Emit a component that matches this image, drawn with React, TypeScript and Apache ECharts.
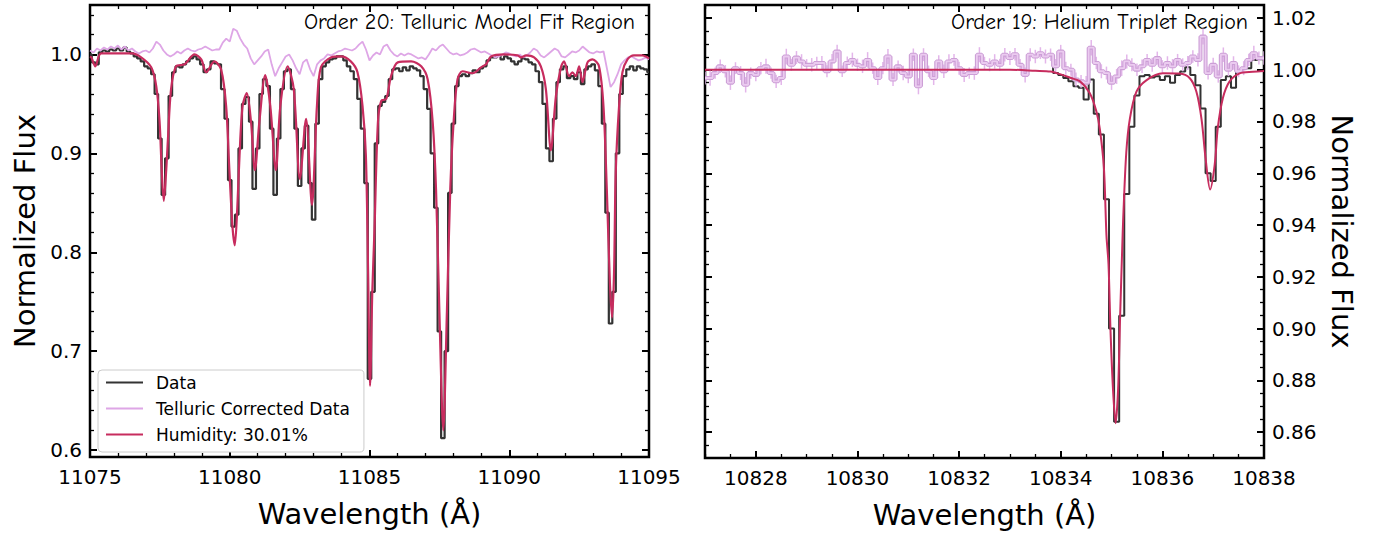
import React, { useEffect, useRef } from 'react';
import * as echarts from 'echarts';

// ---------------- Order 20 (left panel) ----------------
const leftStart = 11075;
const leftStep = 0.125;
const leftData = [
  1.000, 0.992, 0.990, 1.002, 1.004, 1.003, 1.005, 1.004, 1.006, 1.004,
  1.007, 1.003, 1.001, 0.998, 0.996, 0.993, 0.988, 0.986, 0.980, 0.960,
  0.915, 0.858, 0.895, 0.958, 0.982, 0.988, 0.987, 0.990, 0.993, 0.996,
  0.998, 0.995, 0.990, 0.982, 0.985, 0.993, 0.991, 0.990, 0.965, 0.935,
  0.873, 0.826, 0.838, 0.905, 0.950, 0.957, 0.932, 0.864, 0.905, 0.960,
  0.975, 0.968, 0.925, 0.858, 0.915, 0.965, 0.983, 0.985, 0.965, 0.925,
  0.867, 0.905, 0.928, 0.870, 0.833, 0.930, 0.975, 0.988, 0.992, 0.995,
  0.996, 0.998, 0.998, 0.994, 0.988, 0.983, 0.975, 0.955, 0.925, 0.870,
  0.672, 0.760, 0.910, 0.948, 0.952, 0.958, 0.975, 0.985, 0.986, 0.983,
  0.987, 0.984, 0.988, 0.986, 0.984, 0.978, 0.965, 0.945, 0.900, 0.845,
  0.720, 0.612, 0.700, 0.860, 0.930, 0.968, 0.978, 0.980, 0.978, 0.981,
  0.984, 0.982, 0.986, 0.988, 0.994, 0.997, 0.997, 0.999, 0.995, 0.998,
  0.996, 0.993, 0.990, 0.993, 0.996, 0.995, 0.992, 0.990, 0.983, 0.972,
  0.950, 0.905, 0.892, 0.935, 0.972, 0.985, 0.988, 0.976, 0.978, 0.975,
  0.982, 0.970, 0.985, 0.988, 0.990, 0.984, 0.968, 0.930, 0.840, 0.728,
  0.760, 0.900, 0.960, 0.978, 0.985, 0.988, 0.984, 0.988, 0.986, 0.985,
  0.982,
];
const leftCorrected = [
  1.004, 1.002, 1.006, 1.004, 1.007, 1.005, 1.008, 1.006, 1.009, 1.005,
  1.008, 1.004, 1.006, 1.003, 1.001, 1.003, 1.004, 1.002, 1.006, 1.013,
  1.010, 1.004, 1.000, 0.998, 1.000, 1.003, 1.001, 1.004, 1.006, 1.004,
  1.003, 1.005, 1.006, 1.008, 1.006, 1.004, 1.005, 1.005, 1.012, 1.016,
  1.013, 1.026, 1.024, 1.016, 1.010, 1.006, 0.996, 0.990, 0.994, 0.998,
  1.003, 1.005, 0.990, 0.978, 0.986, 0.992, 0.998, 1.000, 0.994, 0.986,
  0.980, 0.992, 0.995, 0.985, 0.978, 0.990, 0.994, 0.996, 1.000, 0.999,
  1.001, 1.003, 1.004, 1.006, 1.005, 1.004, 1.006, 1.010, 1.013, 1.005,
  0.994, 0.999, 1.002, 1.000, 1.008, 1.010, 1.004, 1.000, 0.998, 1.001,
  0.999, 1.001, 1.000, 0.998, 0.996, 0.997, 0.995, 1.000, 1.006, 1.004,
  1.008, 1.010, 1.006, 1.002, 1.000, 1.001, 0.999, 1.000, 1.002, 1.005,
  1.006, 1.004, 1.002, 1.003, 1.001, 0.999, 0.997, 0.998, 1.000, 1.002,
  1.001, 0.999, 0.998, 1.000, 0.997, 0.999, 1.002, 1.006, 1.004, 0.999,
  0.997, 1.000, 1.003, 1.006, 1.004, 0.998, 0.997, 1.000, 1.003, 1.002,
  1.004, 1.008, 1.005, 1.002, 1.001, 1.003, 1.002, 1.003, 0.985, 0.967,
  0.972, 0.980, 0.990, 0.994, 0.997, 0.998, 0.996, 0.994, 0.995, 0.997,
  0.995,
];
const leftModelWave = [
  11075.0, 11075.05, 11075.19, 11075.4, 11076.5, 11076.83, 11077.19, 11077.37, 11077.49, 11077.57,
  11077.64, 11077.72, 11077.79, 11077.9, 11078.08, 11078.38, 11078.74, 11078.98, 11079.16, 11079.45,
  11079.69, 11079.87, 11079.99, 11080.1, 11080.18, 11080.27, 11080.35, 11080.46, 11080.61, 11080.76,
  11080.9, 11081.06, 11081.27, 11081.45, 11081.65, 11081.81, 11082.07, 11082.29, 11082.51, 11082.73,
  11082.94, 11083.12, 11083.26, 11083.62, 11083.98, 11084.33, 11084.57, 11084.75, 11084.87, 11084.95,
  11085.02, 11085.1, 11085.18, 11085.3, 11085.42, 11085.6, 11085.77, 11086.01, 11086.49, 11086.85,
  11087.08, 11087.26, 11087.38, 11087.5, 11087.64, 11087.77, 11087.89, 11088.01, 11088.15, 11088.33,
  11088.69, 11088.99, 11089.17, 11089.35, 11089.82, 11090.3, 11090.42, 11090.6, 11090.89, 11091.13,
  11091.31, 11091.49, 11091.67, 11091.85, 11091.96, 11092.14, 11092.26, 11092.38, 11092.5, 11092.62,
  11092.8, 11092.98, 11093.21, 11093.37, 11093.49, 11093.6, 11093.68, 11093.75, 11093.81, 11093.93,
  11094.05, 11094.23, 11094.46, 11094.76, 11094.95, 11095.0,
];
const leftModelFlux = [
  0.998, 0.997, 0.988, 1.001, 1.001, 0.997, 0.987, 0.968, 0.932, 0.880,
  0.852, 0.880, 0.915, 0.965, 0.988, 0.990, 1.000, 0.995, 0.982, 0.993,
  0.985, 0.948, 0.881, 0.825, 0.807, 0.845, 0.898, 0.948, 0.961, 0.932,
  0.883, 0.932, 0.979, 0.948, 0.883, 0.948, 0.988, 0.965, 0.874, 0.935,
  0.848, 0.948, 0.987, 0.997, 0.998, 0.993, 0.982, 0.948, 0.898, 0.780,
  0.665, 0.760, 0.824, 0.931, 0.953, 0.955, 0.978, 0.992, 0.993, 0.988,
  0.975, 0.932, 0.864, 0.740, 0.620, 0.740, 0.864, 0.932, 0.975, 0.983,
  0.981, 0.987, 0.990, 0.998, 1.000, 0.999, 0.997, 0.999, 0.997, 0.988,
  0.965, 0.903, 0.958, 0.987, 0.993, 0.978, 0.982, 0.978, 0.988, 0.972,
  0.992, 0.995, 0.988, 0.948, 0.864, 0.770, 0.734, 0.780, 0.881, 0.948,
  0.982, 0.995, 0.999, 0.999, 0.997, 0.996,
];

// ---------------- Order 19 (right panel) ----------------
const rightStart = 10827;
const rightStep = 0.1;
const rightData = [
  0.9968, 0.9968, 0.9987, 1.0013, 0.9994, 0.9950, 1.0006, 0.9987, 0.9942, 0.9987,
  0.9980, 1.0006, 1.0013, 0.9987, 0.9955, 0.9968, 1.0051, 1.0019, 1.0047, 1.0032,
  1.0019, 1.0019, 1.0026, 1.0026, 0.9994, 1.0032, 1.0070, 0.9994, 1.0026, 1.0038,
  1.0019, 1.0013, 1.0038, 1.0006, 0.9968, 1.0006, 1.0051, 0.9962, 1.0013, 0.9987,
  0.9974, 1.0058, 0.9936, 1.0058, 0.9994, 0.9968, 1.0032, 0.9994, 1.0032, 1.0038,
  1.0006, 0.9980, 0.9987, 0.9987, 1.0058, 1.0026, 1.0019, 1.0032, 1.0019, 1.0058,
  1.0045, 1.0060, 1.0019, 0.9980, 1.0058, 1.0051, 1.0064, 1.0051, 1.0058, 0.9987,
  0.9980, 0.9968, 0.9955, 0.9936, 0.9930, 0.9885, 0.9962, 0.9830, 0.9750, 0.9500,
  0.9000, 0.8640, 0.9050, 0.9520, 0.9780, 0.9900, 0.9975, 0.9980, 0.9970, 0.9975,
  0.9960, 0.9975, 0.9950, 0.9980, 0.9993, 1.0010, 0.9980, 0.9940, 0.9850, 0.9600,
  0.9570, 0.9780, 0.9960, 0.9975, 0.9930, 0.9995, 1.0006, 1.0006, 1.0038, 1.0040,
  1.0040,
];
const rightCorrected = [
  0.9968, 0.9968, 0.9987, 1.0013, 0.9994, 0.9950, 1.0006, 0.9987, 0.9942, 0.9987,
  0.9980, 1.0006, 1.0013, 0.9987, 0.9955, 0.9968, 1.0051, 1.0019, 1.0047, 1.0032,
  1.0019, 1.0019, 1.0026, 1.0026, 0.9994, 1.0032, 1.0070, 0.9994, 1.0026, 1.0038,
  1.0019, 1.0013, 1.0038, 1.0006, 0.9968, 1.0006, 1.0051, 0.9962, 1.0013, 0.9987,
  0.9974, 1.0058, 0.9936, 1.0058, 0.9994, 0.9968, 1.0032, 0.9994, 1.0032, 1.0038,
  1.0006, 0.9980, 0.9987, 0.9987, 1.0058, 1.0026, 1.0019, 1.0032, 1.0019, 1.0058,
  1.0045, 1.0060, 1.0019, 0.9980, 1.0058, 1.0051, 1.0064, 1.0051, 1.0058, 1.0013,
  1.0070, 1.0006, 1.0000, 0.9962, 0.9955, 0.9950, 1.0085, 1.0026, 0.9994, 0.9987,
  0.9950, 0.9974, 1.0006, 1.0032, 1.0019, 1.0000, 1.0013, 1.0038, 1.0019, 1.0045,
  1.0013, 1.0026, 1.0013, 1.0038, 1.0019, 1.0026, 1.0051, 1.0038, 1.0128, 0.9987,
  1.0019, 0.9974, 1.0058, 1.0000, 1.0026, 0.9994, 1.0006, 1.0038, 1.0064, 1.0045,
  1.0045,
];
const rightErr = [
  0.0025, 0.0030, 0.0022, 0.0026, 0.0024, 0.0028, 0.0023, 0.0027, 0.0030, 0.0022,
  0.0025, 0.0024, 0.0029, 0.0022, 0.0026, 0.0027, 0.0030, 0.0023, 0.0025, 0.0028,
  0.0022, 0.0026, 0.0024, 0.0027, 0.0023, 0.0029, 0.0026, 0.0022, 0.0025, 0.0028,
  0.0024, 0.0026, 0.0030, 0.0022, 0.0027, 0.0024, 0.0029, 0.0025, 0.0023, 0.0028,
  0.0026, 0.0024, 0.0031, 0.0025, 0.0022, 0.0027, 0.0024, 0.0026, 0.0028, 0.0023,
  0.0025, 0.0027, 0.0022, 0.0026, 0.0029, 0.0024, 0.0025, 0.0028, 0.0023, 0.0026,
  0.0027, 0.0024, 0.0022, 0.0029, 0.0025, 0.0026, 0.0023, 0.0027, 0.0024, 0.0028,
  0.0026, 0.0025, 0.0023, 0.0027, 0.0025, 0.0026, 0.0030, 0.0024, 0.0027, 0.0025,
  0.0028, 0.0029, 0.0030, 0.0027, 0.0025, 0.0024, 0.0026, 0.0023, 0.0027, 0.0025,
  0.0024, 0.0026, 0.0028, 0.0023, 0.0025, 0.0027, 0.0024, 0.0026, 0.0031, 0.0025,
  0.0027, 0.0024, 0.0028, 0.0025, 0.0026, 0.0023, 0.0027, 0.0024, 0.0029, 0.0025,
  0.0026,
];
const rightModelWave = [
  10827.0, 10833.0, 10833.5, 10833.8, 10834.0, 10834.2, 10834.38, 10834.57, 10834.7, 10834.77,
  10834.85, 10834.9, 10834.94, 10834.98, 10835.03, 10835.08, 10835.13, 10835.17, 10835.21, 10835.23,
  10835.29, 10835.36, 10835.49, 10835.69, 10836.01, 10836.34, 10836.54, 10836.67, 10836.77, 10836.85,
  10836.94, 10837.03, 10837.09, 10837.19, 10837.32, 10837.52, 10837.78, 10838.0,
];
const rightModelFlux = [
  1.0000, 1.0000, 0.9996, 0.9993, 0.9982, 0.9968, 0.9955, 0.9910, 0.9840, 0.9770,
  0.9620, 0.9360, 0.9250, 0.8990, 0.8760, 0.8634, 0.8770, 0.9056, 0.9310, 0.9428,
  0.9680, 0.9810, 0.9915, 0.9960, 0.9986, 0.9985, 0.9967, 0.9915, 0.9810, 0.9658,
  0.9537, 0.9633, 0.9774, 0.9890, 0.9954, 0.9986, 0.9992, 0.9995,
];

// ---------------- ticks ----------------
const leftXMajor = [11075, 11080, 11085, 11090, 11095];
const leftXMinor = [11076, 11077, 11078, 11079, 11081, 11082, 11083, 11084, 11086, 11087, 11088, 11089, 11091, 11092, 11093, 11094];
const leftYMajor = [0.6, 0.7, 0.8, 0.9, 1.0];
const leftYMinor = [0.62, 0.64, 0.66, 0.68, 0.72, 0.74, 0.76, 0.78, 0.82, 0.84, 0.86, 0.88, 0.92, 0.94, 0.96, 0.98, 1.02, 1.04];
const rightXMajor = [10828, 10830, 10832, 10834, 10836, 10838];
const rightXMinor = [10827, 10827.5, 10828.5, 10829, 10829.5, 10830.5, 10831, 10831.5, 10832.5, 10833, 10833.5, 10834.5, 10835, 10835.5, 10836.5, 10837, 10837.5];
const rightYMajor = [0.86, 0.88, 0.9, 0.92, 0.94, 0.96, 0.98, 1.0, 1.02];
const rightYMinor = [0.855, 0.865, 0.87, 0.875, 0.885, 0.89, 0.895, 0.905, 0.91, 0.915, 0.925, 0.93, 0.935, 0.945, 0.95, 0.955, 0.965, 0.97, 0.975, 0.985, 0.99, 0.995, 1.005, 1.01, 1.015];

const FONT = 'DejaVu Sans';
const TITLE_FONT = '"Comic Sans MS", "Comic Neue", "DejaVu Sans"';
const C_DATA = '#333333';
const C_CORR = '#dea6e6';
const C_MODEL = '#c72c5e';

function tickAxis(o: any) {
  const major = !!o.major;
  return {
    type: 'value',
    gridIndex: o.grid,
    min: o.min,
    max: o.max,
    position: o.position,
    silent: true,
    axisLine: { show: false },
    splitLine: { show: false },
    axisTick: {
      show: true,
      inside: true,
      length: major ? 7 : 4,
      lineStyle: { color: '#000', width: major ? 2 : 1.3 },
      customValues: o.ticks,
    },
    axisLabel: o.fmt
      ? { show: true, customValues: o.ticks, formatter: o.fmt, color: '#000', fontSize: 20, fontFamily: FONT, margin: o.margin ?? 9 }
      : { show: false },
    name: o.name || '',
    nameLocation: 'middle',
    nameGap: o.nameGap ?? 40,
    nameRotate: o.nameRotate,
    nameTextStyle: { fontSize: 29, fontFamily: FONT, color: '#000' },
  };
}

function buildOption() {
  const leftDataPairs = leftData.map((v, i) => [leftStart + i * leftStep, v]);
  const leftCorrPairs = leftCorrected.map((v, i) => [leftStart + i * leftStep, v]);
  const leftModelPairs = leftModelWave.map((w, i) => [w, leftModelFlux[i]]);
  const rightDataPairs = rightData.map((v, i) => [rightStart + i * rightStep, v]);
  const rightCorrPairs = rightCorrected.map((v, i) => [rightStart + i * rightStep, v]);
  const rightErrTriples = rightCorrected.map((v, i) => [rightStart + i * rightStep, v, rightErr[i]]);
  const rightModelPairs = rightModelWave.map((w, i) => [w, rightModelFlux[i]]);

  const L = { xmin: 11075, xmax: 11095, ymin: 0.593, ymax: 1.05 };
  const R = { xmin: 10827, xmax: 10838, ymin: 0.85, ymax: 1.025 };
  const f1 = (v: number) => v.toFixed(1);
  const f2 = (v: number) => v.toFixed(2);
  const f0 = (v: number) => String(Math.round(v));

  const xAxis = [
    tickAxis({ grid: 0, min: L.xmin, max: L.xmax, position: 'bottom', ticks: leftXMajor, major: true, fmt: f0, margin: 10, name: 'Wavelength (Å)', nameGap: 42 }),
    tickAxis({ grid: 0, min: L.xmin, max: L.xmax, position: 'bottom', ticks: leftXMinor }),
    tickAxis({ grid: 0, min: L.xmin, max: L.xmax, position: 'top', ticks: leftXMajor, major: true }),
    tickAxis({ grid: 0, min: L.xmin, max: L.xmax, position: 'top', ticks: leftXMinor }),
    tickAxis({ grid: 1, min: R.xmin, max: R.xmax, position: 'bottom', ticks: rightXMajor, major: true, fmt: f0, margin: 10, name: 'Wavelength (Å)', nameGap: 42 }),
    tickAxis({ grid: 1, min: R.xmin, max: R.xmax, position: 'bottom', ticks: rightXMinor }),
    tickAxis({ grid: 1, min: R.xmin, max: R.xmax, position: 'top', ticks: rightXMajor, major: true }),
    tickAxis({ grid: 1, min: R.xmin, max: R.xmax, position: 'top', ticks: rightXMinor }),
  ];
  const yAxis = [
    tickAxis({ grid: 0, min: L.ymin, max: L.ymax, position: 'left', ticks: leftYMajor, major: true, fmt: f1, margin: 8, name: 'Normalized Flux', nameGap: 51 }),
    tickAxis({ grid: 0, min: L.ymin, max: L.ymax, position: 'left', ticks: leftYMinor }),
    tickAxis({ grid: 0, min: L.ymin, max: L.ymax, position: 'right', ticks: leftYMajor, major: true }),
    tickAxis({ grid: 0, min: L.ymin, max: L.ymax, position: 'right', ticks: leftYMinor }),
    tickAxis({ grid: 1, min: R.ymin, max: R.ymax, position: 'left', ticks: rightYMajor, major: true }),
    tickAxis({ grid: 1, min: R.ymin, max: R.ymax, position: 'left', ticks: rightYMinor }),
    tickAxis({ grid: 1, min: R.ymin, max: R.ymax, position: 'right', ticks: rightYMajor, major: true, fmt: f2, margin: 8, name: 'Normalized Flux', nameGap: 63, nameRotate: -90 }),
    tickAxis({ grid: 1, min: R.ymin, max: R.ymax, position: 'right', ticks: rightYMinor }),
  ];

  const lineBase = { type: 'line', symbol: 'none', showSymbol: false, animation: false, clip: true, silent: true };

  return {
    animation: false,
    backgroundColor: '#ffffff',
    textStyle: { fontFamily: FONT },
    grid: [
      { left: 90, top: 5, width: 559, height: 452, show: true, borderColor: '#000', borderWidth: 2.5, backgroundColor: 'transparent', containLabel: false, outerBoundsMode: 'none' },
      { left: 705, top: 5, width: 559, height: 453, show: true, borderColor: '#000', borderWidth: 2.5, backgroundColor: 'transparent', containLabel: false, outerBoundsMode: 'none' },
    ],
    xAxis,
    yAxis,
    legend: {
      show: true,
      data: ['Data', 'Telluric Corrected Data', 'Humidity: 30.01%'],
      orient: 'vertical',
      left: 98,
      top: 370,
      padding: [4, 14, 9, 7],
      itemGap: 9,
      itemWidth: 37,
      itemHeight: 14,
      itemStyle: { opacity: 0 },
      backgroundColor: '#ffffff',
      borderColor: '#cccccc',
      borderWidth: 1,
      borderRadius: 4,
      selectedMode: false,
      textStyle: { fontSize: 17, fontFamily: FONT, color: '#000', padding: [0, 0, 0, 8] },
    },
    graphic: [
      { type: 'text', x: 635, y: 22, silent: true, style: { text: 'Order 20: Telluric Model Fit Region', align: 'right', verticalAlign: 'middle', fontSize: 22, fontFamily: TITLE_FONT, fill: '#000' } },
      { type: 'text', x: 1248, y: 22, silent: true, style: { text: 'Order 19: Helium Triplet Region', align: 'right', verticalAlign: 'middle', fontSize: 22, fontFamily: TITLE_FONT, fill: '#000' } },
    ],
    series: [
      { ...lineBase, name: 'Data', xAxisIndex: 0, yAxisIndex: 0, data: leftDataPairs, step: 'middle', lineStyle: { color: C_DATA, width: 2.2 }, itemStyle: { color: C_DATA }, z: 2 },
      { ...lineBase, name: 'Telluric Corrected Data', xAxisIndex: 0, yAxisIndex: 0, data: leftCorrPairs, lineStyle: { color: C_CORR, width: 1.8 }, itemStyle: { color: C_CORR }, z: 3 },
      { ...lineBase, name: 'Humidity: 30.01%', xAxisIndex: 0, yAxisIndex: 0, data: leftModelPairs, smooth: 0.3, lineStyle: { color: C_MODEL, width: 2.2 }, itemStyle: { color: C_MODEL }, z: 4 },

      { ...lineBase, name: 'Data', xAxisIndex: 4, yAxisIndex: 6, data: rightDataPairs, step: 'middle', lineStyle: { color: C_DATA, width: 2 }, itemStyle: { color: C_DATA }, z: 2 },
      {
        type: 'custom', name: 'Telluric Corrected Errors', xAxisIndex: 4, yAxisIndex: 6, data: rightErrTriples, clip: true, silent: true, z: 3,
        encode: { x: 0, y: 1 },
        renderItem: (params: any, api: any) => {
          const x = api.value(0);
          const y = api.value(1);
          const e = api.value(2);
          const p1 = api.coord([x, y - e]);
          const p2 = api.coord([x, y + e]);
          return { type: 'line', shape: { x1: p1[0], y1: p1[1], x2: p2[0], y2: p2[1] }, style: { stroke: '#e3b6ea', lineWidth: 1.5 } };
        },
      },
      { ...lineBase, name: 'Telluric Corrected Data', xAxisIndex: 4, yAxisIndex: 6, data: rightCorrPairs, step: 'middle', lineStyle: { color: '#cc9fd6', width: 4 }, itemStyle: { color: '#cc9fd6' }, z: 4 },
      { ...lineBase, name: 'Telluric Corrected (inner)', xAxisIndex: 4, yAxisIndex: 6, data: rightCorrPairs, step: 'middle', lineStyle: { color: '#ebcbf0', width: 1.8 }, itemStyle: { color: '#ebcbf0' }, z: 5 },
      { ...lineBase, name: 'Humidity: 30.01%', xAxisIndex: 4, yAxisIndex: 6, data: rightModelPairs, smooth: 0.3, lineStyle: { color: C_MODEL, width: 2 }, itemStyle: { color: C_MODEL }, z: 6 },
    ],
  };
}

export default function App() {
  const ref = useRef<HTMLDivElement>(null);
  useEffect(() => {
    const el = ref.current;
    if (!el) return;
    const chart = echarts.init(el, null, { renderer: 'svg' });
    chart.setOption(buildOption() as any);
    return () => chart.dispose();
  }, []);
  return (
    <div
      ref={ref}
      style={{ position: 'absolute', left: 0, top: 0, width: 1387, height: 536, background: '#ffffff' }}
    />
  );
}
